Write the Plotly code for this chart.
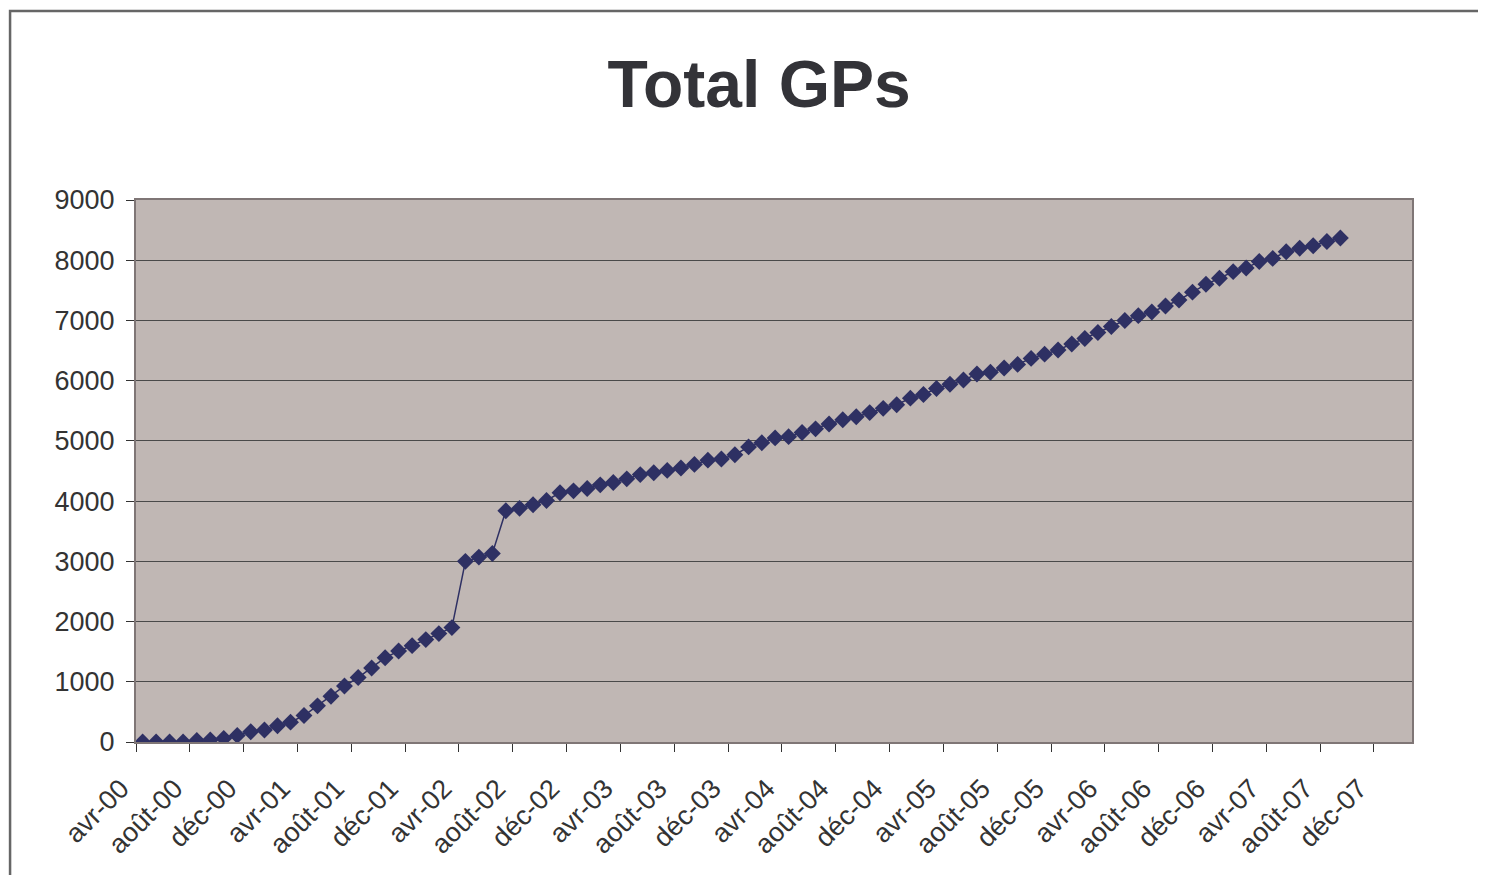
import pandas as pd
import plotly.graph_objects as go


# monthly totals, avr-00 .. sept-07
months = pd.date_range('2000-04-01', '2007-09-01', freq='MS')
total_gps = [
    0, 0, 0, 0, 25, 35, 60, 110, 170, 200,
    270, 330, 440, 600, 760, 930, 1070, 1230, 1400, 1510,
    1600, 1700, 1800, 1900, 3000, 3070, 3130, 3840, 3880, 3940,
    4010, 4140, 4170, 4210, 4270, 4310, 4370, 4440, 4470, 4510,
    4550, 4610, 4680, 4700, 4770, 4900, 4970, 5050, 5070, 5140,
    5200, 5280, 5350, 5400, 5470, 5540, 5600, 5710, 5770, 5870,
    5940, 6010, 6110, 6140, 6210, 6270, 6370, 6440, 6510, 6610,
    6700, 6800, 6900, 7000, 7080, 7140, 7240, 7340, 7470, 7600,
    7700, 7810, 7870, 7980, 8030, 8140, 8200, 8240, 8310, 8370,
]

# axis ticks every 4 months, french labels
tick_dates = pd.date_range('2000-04-01', '2007-12-01', freq='4MS')
tick_labels = ['avr-%02d', 'août-%02d', 'déc-%02d']
tick_text = [tick_labels[i % 3] % (d.year % 100) for i, d in enumerate(tick_dates)]

line_col = '#2e3063'
font_family = 'Liberation Sans, Arial, sans-serif'

fig = go.Figure()

fig.add_trace(
    go.Scatter(x=months, y=total_gps,
               mode='lines+markers',
               xperiod='M1',
               xperiodalignment='middle',
               line={'color': line_col, 'width': 1.5},
               marker={'symbol': 'diamond', 'size': 13, 'color': line_col},
               showlegend=False,
               )
)

fig.update_xaxes(
    type='date',
    range=['2000-04-01', '2008-02-25'],
    tickvals=tick_dates,
    ticktext=tick_text,
    tickangle=-45,
    ticks='outside', ticklen=8, tickcolor='#333333',
    tickfont={'size': 27, 'color': '#333333', 'family': font_family},
    ticklabelstandoff=10,
    ticklabelshift=-15,
    showgrid=False,
    showline=True, linecolor='#7f7676', linewidth=2, mirror=True,
)

fig.update_yaxes(
    range=[0, 9000],
    dtick=1000,
    ticks='outside', ticklen=8, tickcolor='#333333',
    tickfont={'size': 27, 'color': '#333333', 'family': font_family},
    ticklabelstandoff=6,
    showgrid=True, gridcolor='#4a4a4a', gridwidth=1,
    zeroline=False,
    showline=True, linecolor='#7f7676', linewidth=2, mirror=True,
)

# outer chart frame (left/top edges visible)
fig.add_shape(type='rect', xref='paper', yref='paper',
              x0=-0.0987, x1=1.1, y0=-0.4, y1=1.3487,
              line={'color': '#666666', 'width': 2.5}, layer='below')

fig.update_layout(
    width=1470, height=867,
    margin=dict(l=128, r=66, t=192, b=133),
    paper_bgcolor='white',
    plot_bgcolor='#c0b7b4',
    title={'text': '<b>Total GPs</b>', 'x': 0.511, 'xanchor': 'center',
           'y': 0.913, 'yanchor': 'middle',
           'font': {'size': 66, 'color': '#333338', 'family': font_family}},
    font={'family': font_family},
)

fig.write_html('out.html')
